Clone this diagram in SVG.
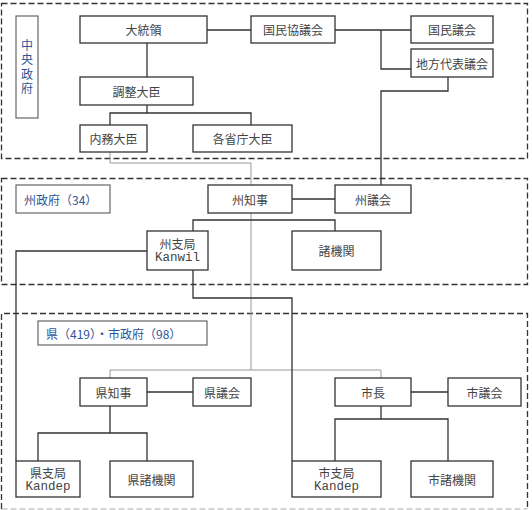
<svg xmlns="http://www.w3.org/2000/svg" width="532" height="510" viewBox="0 0 532 510">
<style>
.zone{fill:none;stroke:#333;stroke-width:1.3;stroke-dasharray:6 3}
.box rect{fill:#fff;stroke:#333;stroke-width:1.3}
.box text{font-family:"Noto Sans CJK JP",sans-serif;font-size:12px;fill:#444;text-anchor:middle;dominant-baseline:central}
.box text.lat{font-family:"Liberation Mono",monospace;font-size:12.5px}
.lab rect{fill:#fff;stroke:#666;stroke-width:1.2}
.lab text{font-family:"Noto Sans CJK JP",sans-serif;font-size:12px;fill:#2f5597;dominant-baseline:central}
.c{fill:none;stroke:#333;stroke-width:1.3}
.t{fill:none;stroke:#999;stroke-width:1}
</style>
<rect width="532" height="510" fill="#fff"/>
<g id="zones">
<rect class="zone" x="1.5" y="3.5" width="526" height="155"/>
<rect class="zone" x="1.5" y="178.5" width="526" height="106"/>
<path class="zone" d="M1.5,509 V313.5 H527.5 V509"/>
<path d="M1.5,509 H527.5" stroke="#aaa" stroke-width="1" stroke-dasharray="6 3"/>
</g>
<g id="connectors">
<path class="t" d="M110,152 V163 H251 V185 M251,213 V370 M110,378 V370 H381 V378"/>
<path class="c" d="M207,30 H251 M335,30 H411 M381,30 V69 H411 M448,77 V91 H381 V185"/>
<path class="c" d="M147,43 V77 M147,105 V113 M110,125 V113 H251 V125"/>
<path class="c" d="M292,199 H335 M193,231 V220 H335 V231"/>
<path class="c" d="M147,251 H16 V461 M193,270 V298 H292 V461"/>
<path class="c" d="M147,392 H193 M110,406 V433 M38,461 V433 H147 V461"/>
<path class="c" d="M411,392 H448 M381,406 V419 M335,461 V419 H448 V461"/>
</g>
<g id="label-central" class="lab"><rect x="16" y="16" width="22" height="102"/>
<text x="27" y="68" writing-mode="vertical-rl" text-anchor="middle" letter-spacing="2.5" style="dominant-baseline:auto">中央政府</text></g>
<g id="president" class="box"><rect x="80" y="16" width="127" height="27"/><text x="143.5" y="29.5">大統領</text></g>
<g id="mpr" class="box"><rect x="251" y="16" width="84" height="27"/><text x="293" y="29.5">国民協議会</text></g>
<g id="dpr" class="box"><rect x="411" y="16" width="82" height="27"/><text x="452" y="29.5">国民議会</text></g>
<g id="dpd" class="box"><rect x="411" y="49" width="82" height="28"/><text x="452" y="63">地方代表議会</text></g>
<g id="coord" class="box"><rect x="80" y="77" width="113" height="28"/><text x="136.5" y="91">調整大臣</text></g>
<g id="home" class="box"><rect x="80" y="125" width="67" height="27"/><text x="113.5" y="138.5">内務大臣</text></g>
<g id="ministers" class="box"><rect x="193" y="125" width="99" height="27"/><text x="242.5" y="138.5">各省庁大臣</text></g>
<g id="label-prov" class="lab"><rect x="16" y="185" width="94" height="28"/><text x="24" y="199">州政府（34）</text></g>
<g id="governor" class="box"><rect x="208" y="185" width="84" height="28"/><text x="250" y="199">州知事</text></g>
<g id="dprd-prov" class="box"><rect x="335" y="185" width="76" height="28"/><text x="373" y="199">州議会</text></g>
<g id="kanwil" class="box"><rect x="147" y="231" width="61" height="39"/><text x="177.5" y="243">州支局</text><text class="lat" x="177.5" y="258">Kanwil</text></g>
<g id="prov-agencies" class="box"><rect x="292" y="231" width="89" height="39"/><text x="336.5" y="250.5">諸機関</text></g>
<g id="label-local" class="lab"><rect x="38" y="321" width="169" height="24"/><text x="46" y="333">県（419）・市政府（98）</text></g>
<g id="regent" class="box"><rect x="80" y="378" width="67" height="28"/><text x="113.5" y="392">県知事</text></g>
<g id="dprd-kab" class="box"><rect x="193" y="378" width="58" height="28"/><text x="222" y="392">県議会</text></g>
<g id="mayor" class="box"><rect x="335" y="378" width="76" height="28"/><text x="373" y="392">市長</text></g>
<g id="dprd-kota" class="box"><rect x="448" y="378" width="73" height="28"/><text x="484.5" y="392">市議会</text></g>
<g id="kandep-kab" class="box"><rect x="16" y="461" width="64" height="36"/><text x="48" y="472">県支局</text><text class="lat" x="48" y="487">Kandep</text></g>
<g id="kab-agencies" class="box"><rect x="110" y="461" width="83" height="36"/><text x="151.5" y="479">県諸機関</text></g>
<g id="kandep-kota" class="box"><rect x="292" y="461" width="89" height="36"/><text x="336.5" y="472">市支局</text><text class="lat" x="336.5" y="487">Kandep</text></g>
<g id="kota-agencies" class="box"><rect x="411" y="461" width="82" height="36"/><text x="452" y="479">市諸機関</text></g>
</svg>
